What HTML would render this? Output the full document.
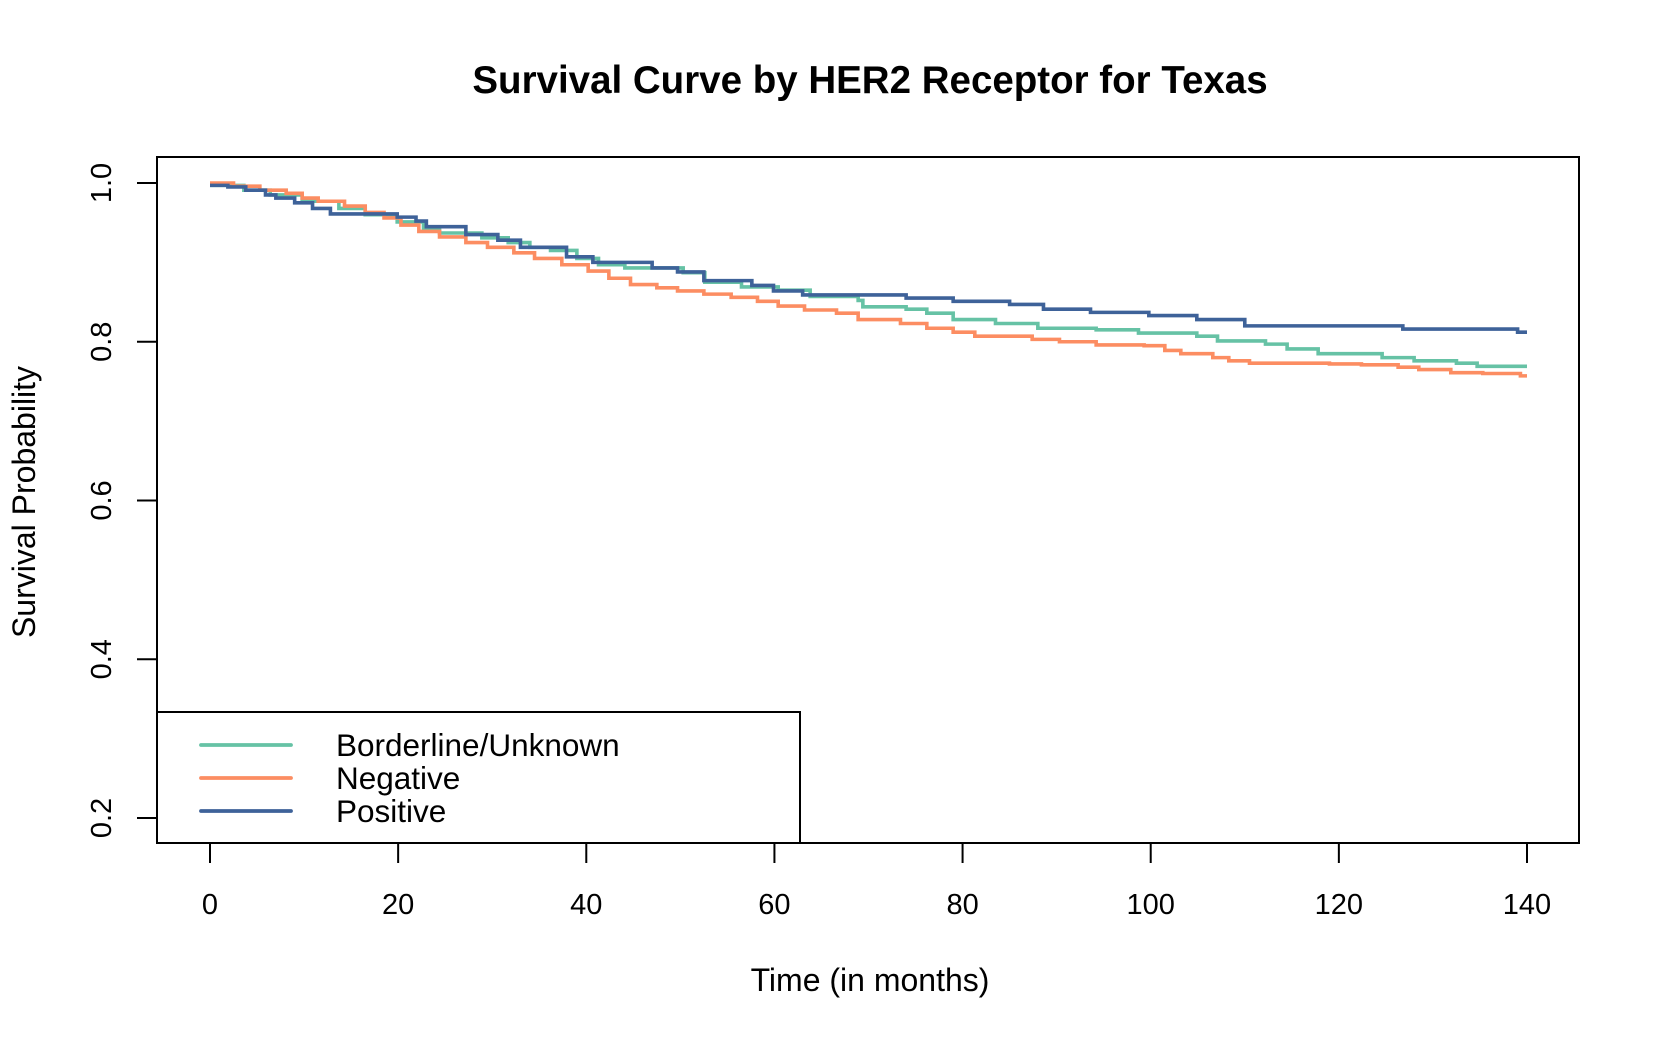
<!DOCTYPE html>
<html><head><meta charset="utf-8"><style>
html,body{margin:0;padding:0;background:#fff;}
svg{display:block;font-family:"Liberation Sans",Arial,sans-serif;}
</style></head><body>
<svg id="chart" width="1660" height="1040" viewBox="0 0 1660 1040" xmlns="http://www.w3.org/2000/svg">
<text x="870" y="93" text-anchor="middle" font-size="38.5" font-weight="bold">Survival Curve by HER2 Receptor for Texas</text>
<text x="870" y="991" text-anchor="middle" font-size="32">Time (in months)</text>
<text transform="translate(35,502) rotate(-90)" text-anchor="middle" font-size="32">Survival Probability</text>
<g id="xaxis"></g>
<g id="yaxis"></g>
<g id="series"></g>
<rect x="157" y="157" width="1422" height="686" fill="none" stroke="#000" stroke-width="2"/>
<g id="legend"></g>
</svg>
<script>
const xTicks=[0,20,40,60,80,100,120,140];
const yTicks=[0.2,0.4,0.6,0.8,1.0];
const yTickLabels=["0.2","0.4","0.6","0.8","1.0"];
const seriesNames=["Borderline/Unknown","Negative","Positive"];
const seriesColors=["#66c2a5","#fc8d62","#3e6299"];
const borderlineT=[0,3.6,6.4,9.8,13.7,16.5,19.9,22.7,24.4,28.9,31.7,34,36.2,39,41.3,44.1,50.3,52.6,56.5,60.4,63.8,68.9,69.4,74,76.2,79,83.5,88,94.2,98.7,104.9,107.1,112.2,114.5,117.8,124.6,128,132.5,134.7,140];
const borderlineS=[0.997,0.991,0.985,0.977,0.968,0.96,0.951,0.943,0.937,0.931,0.925,0.919,0.915,0.905,0.897,0.893,0.887,0.875,0.869,0.865,0.857,0.852,0.844,0.841,0.836,0.828,0.823,0.817,0.815,0.811,0.807,0.801,0.797,0.791,0.785,0.78,0.776,0.773,0.769,0.769];
const negativeT=[0,2.5,5.3,8.1,9.8,11.5,14.3,16.5,18.5,20.3,22.2,24.4,27.2,29.5,32.3,34.5,37.4,40.2,42.4,44.7,47.5,49.7,52.5,55.4,58.2,60.4,63.2,66.6,68.9,73.4,76.2,79,81.3,87.4,90.3,94.2,99.3,101.5,103.2,106.6,108.3,110.5,119,122.4,126.3,128.5,131.9,135.3,139.3,140];
const negativeS=[1.0,0.996,0.991,0.987,0.981,0.977,0.971,0.963,0.956,0.947,0.939,0.932,0.925,0.919,0.912,0.905,0.897,0.889,0.88,0.872,0.868,0.864,0.86,0.856,0.851,0.845,0.84,0.836,0.828,0.823,0.817,0.812,0.807,0.803,0.8,0.796,0.795,0.789,0.785,0.78,0.776,0.773,0.772,0.771,0.768,0.765,0.761,0.76,0.757,0.757];
const positiveT=[0,1.9,3.8,5.9,7,9,10.9,12.8,19.9,21.9,23,27.2,30.6,33,37.9,40.7,47,49.7,52.5,57.6,59.9,63,74,79,85,88.6,93.6,99.8,104.9,110,126.8,139,140];
const positiveS=[0.997,0.995,0.991,0.985,0.981,0.975,0.968,0.961,0.957,0.952,0.945,0.935,0.928,0.919,0.907,0.9,0.893,0.888,0.877,0.871,0.864,0.859,0.855,0.851,0.847,0.841,0.837,0.833,0.828,0.82,0.816,0.812,0.812];

const NS="http://www.w3.org/2000/svg";
function xs(t){return 210+(t-0)*(1527-210)/140;}
function ys(s){return 183+(1.0-s)*(818-183)/0.8;}
function mk(tag,attrs){const e=document.createElementNS(NS,tag);for(const k in attrs)e.setAttribute(k,attrs[k]);return e;}

const xa=document.getElementById('xaxis');
xa.appendChild(mk('line',{x1:xs(xTicks[0]),x2:xs(xTicks[xTicks.length-1]),y1:843,y2:843,stroke:'#000','stroke-width':2}));
xTicks.forEach(function(t){
  const l=mk('line',{x1:xs(t),x2:xs(t),y1:843,y2:863,stroke:'#000','stroke-width':2});
  
  
  xa.appendChild(l);
  const tx=mk('text',{x:xs(t),y:914,'text-anchor':'middle','font-size':29});
  
  
  tx.textContent=String(t);
  xa.appendChild(tx);
});
const ya=document.getElementById('yaxis');
ya.appendChild(mk('line',{x1:157,x2:157,y1:ys(yTicks[0]),y2:ys(yTicks[yTicks.length-1]),stroke:'#000','stroke-width':2}));
yTicks.forEach(function(v,i){
  const l=mk('line',{x1:137,x2:157,y1:ys(v),y2:ys(v),stroke:'#000','stroke-width':2});
  
  
  ya.appendChild(l);
  const tx=mk('text',{transform:'translate(111,'+ys(v)+') rotate(-90)','text-anchor':'middle','font-size':29});
  
  
  tx.textContent=yTickLabels[i];
  ya.appendChild(tx);
});

const sg=document.getElementById('series');
const allT=[borderlineT,negativeT,positiveT], allS=[borderlineS,negativeS,positiveS];
const seriesKeys=['borderline-curve','negative-curve','positive-curve'];
for(let k=0;k<3;k++){
  const T=allT[k],S=allS[k];
  let d='M'+xs(T[0])+','+ys(S[0]);
  for(let i=1;i<T.length;i++){d+=' H'+xs(T[i])+' V'+ys(S[i]);}
  const p=mk('path',{d:d,fill:'none',stroke:seriesColors[k],'stroke-width':3.6});
  
  
  sg.appendChild(p);
}

const lg=document.getElementById('legend');
const box=mk('rect',{x:157,y:712,width:643,height:131,fill:'#fff',stroke:'#000','stroke-width':2});


lg.appendChild(box);
const rowY=[745,778,811];
seriesNames.forEach(function(n,i){
  const l=mk('line',{x1:201,x2:291,y1:rowY[i],y2:rowY[i],stroke:seriesColors[i],'stroke-width':3.8,'stroke-linecap':'round'});
  
  
  lg.appendChild(l);
  const tx=mk('text',{x:336,y:rowY[i]+11,'font-size':31.5});
  
  
  tx.textContent=n;
  lg.appendChild(tx);
});
</script>
</body></html>
